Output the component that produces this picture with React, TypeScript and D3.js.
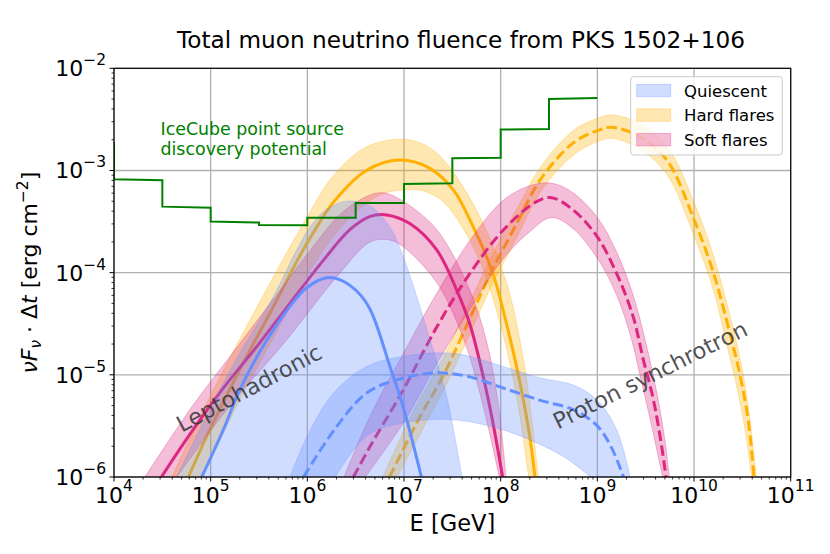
import React from 'react'
import * as d3 from 'd3'

type P = [number, number]

// all points are [log10(E / GeV), log10(fluence / erg cm^-2)]
const xTickExps = [4, 5, 6, 7, 8, 9, 10, 11]
const yTickExps = [-6, -5, -4, -3, -2]
const legendLabels = ['Quiescent', 'Hard flares', 'Soft flares']

// leptohadronic model
const quiescentLeptoLine: P[] = [[4.907, -6.0], [5.13, -5.54], [5.30, -5.15], [5.48, -4.82], [5.65, -4.56], [5.82, -4.33], [5.99, -4.15], [6.2, -4.05], [6.34, -4.07], [6.51, -4.18], [6.65, -4.36], [6.855, -4.92], [6.99, -5.31], [7.18, -6.0]]
const quiescentLeptoUpper: P[] = [[4.65, -6.0], [5.165, -5.02], [5.65, -4.23], [5.89, -3.78], [6.03, -3.55], [6.2, -3.38], [6.41, -3.30], [6.65, -3.35], [6.85, -3.55], [6.99, -3.84], [7.27, -4.66], [7.44, -5.21], [7.6, -6.0]]
const quiescentLeptoLower: P[] = [[4.75, -6.3], [5.5, -6.8], [6.5, -6.9], [7.4, -6.3]]

const hardLeptoLine: P[] = [[4.77, -6.0], [4.96, -5.60], [5.30, -4.95], [5.65, -4.33], [5.92, -3.84], [6.08, -3.58], [6.27, -3.31], [6.61, -3.0], [6.95, -2.898], [7.25, -2.97], [7.51, -3.19], [7.70, -3.52], [7.92, -4.01], [8.06, -4.50], [8.2, -5.08], [8.30, -5.60], [8.355, -6.0]]
const hardLeptoUpper: P[] = [[4.6, -6.0], [5.0, -5.2], [5.5, -4.3], [6.0, -3.45], [6.27, -3.05], [6.61, -2.77], [7.0, -2.695], [7.3, -2.80], [7.65, -3.22], [8.03, -4.01], [8.23, -4.82], [8.39, -6.0]]
const hardLeptoLower: P[] = [[4.92, -6.0], [5.3, -5.25], [5.7, -4.55], [6.0, -4.02], [6.4, -3.5], [6.75, -3.24], [7.0, -3.19], [7.2, -3.2], [7.4, -3.3], [7.6, -3.55], [7.82, -3.97], [8.03, -4.63], [8.165, -5.21], [8.29, -6.0]]

const softLeptoLine: P[] = [[4.49, -6.0], [4.786, -5.58], [5.13, -5.13], [5.48, -4.72], [5.82, -4.30], [6.165, -3.88], [6.44, -3.58], [6.65, -3.45], [6.82, -3.435], [7.06, -3.52], [7.34, -3.78], [7.545, -4.17], [7.68, -4.50], [7.82, -5.02], [7.92, -5.47], [8.02, -6.0]]
const softLeptoUpper: P[] = [[4.32, -6.0], [4.8, -5.32], [5.2, -4.82], [5.6, -4.32], [6.0, -3.82], [6.35, -3.42], [6.65, -3.24], [6.8, -3.22], [6.99, -3.30], [7.34, -3.58], [7.68, -4.17], [7.85, -4.66], [7.97, -5.25], [8.055, -6.0]]
const softLeptoLower: P[] = [[4.65, -6.0], [5.2, -5.3], [5.75, -4.7], [6.34, -4.0], [6.65, -3.70], [6.85, -3.68], [6.99, -3.745], [7.34, -4.10], [7.62, -4.66], [7.82, -5.31], [7.985, -6.0]]

// proton synchrotron model
const quiescentPsLine: P[] = [[5.96, -6.0], [6.30, -5.51], [6.61, -5.18], [6.92, -5.05], [7.34, -4.98], [7.68, -5.02], [8.03, -5.13], [8.41, -5.25], [8.75, -5.34], [9.0, -5.5], [9.15, -5.72], [9.27, -6.0]]
const quiescentPsUpper: P[] = [[5.82, -6.0], [6.0, -5.6], [6.27, -5.18], [6.61, -4.92], [6.99, -4.82], [7.51, -4.79], [8.03, -4.92], [8.41, -5.03], [8.75, -5.10], [9.0, -5.25], [9.2, -5.54], [9.34, -6.0]]
const quiescentPsLower: P[] = [[6.29, -6.0], [6.61, -5.6], [6.99, -5.47], [7.51, -5.44], [8.03, -5.54], [8.45, -5.70], [8.7, -5.83], [8.93, -6.0]]

const hardPsLine: P[] = [[6.85, -6.0], [7.165, -5.41], [7.41, -5.0], [7.68, -4.45], [7.89, -4.02], [8.165, -3.52], [8.41, -3.09], [8.75, -2.73], [9.0, -2.61], [9.146, -2.577], [9.44, -2.67], [9.72, -2.90], [10.0, -3.48], [10.2, -4.0], [10.37, -4.59], [10.475, -5.0], [10.56, -5.44], [10.62, -6.0]]
const hardPsUpper: P[] = [[6.78, -6.0], [7.1, -5.35], [7.4, -4.84], [7.68, -4.29], [7.89, -3.87], [8.165, -3.38], [8.41, -2.97], [8.75, -2.61], [9.0, -2.49], [9.146, -2.457], [9.44, -2.54], [9.72, -2.76], [10.0, -3.31], [10.2, -3.83], [10.38, -4.45], [10.5, -4.95], [10.58, -5.45], [10.645, -6.0]]
const hardPsLower: P[] = [[6.93, -6.0], [7.2, -5.52], [7.41, -5.15], [7.68, -4.60], [7.89, -4.16], [8.165, -3.66], [8.41, -3.21], [8.75, -2.85], [9.0, -2.72], [9.146, -2.685], [9.44, -2.79], [9.72, -3.04], [10.0, -3.64], [10.2, -4.17], [10.35, -4.75], [10.45, -5.15], [10.53, -5.55], [10.595, -6.0]]

const softPsLine: P[] = [[6.476, -6.0], [6.65, -5.70], [6.99, -5.15], [7.34, -4.53], [7.68, -4.01], [8.03, -3.58], [8.37, -3.305], [8.527, -3.266], [8.75, -3.387], [9.0, -3.65], [9.2, -4.01], [9.37, -4.43], [9.475, -4.85], [9.58, -5.245], [9.665, -5.70], [9.71, -6.0]]
const softPsUpper: P[] = [[6.38, -6.0], [6.65, -5.40], [7.0, -4.78], [7.34, -4.20], [7.7, -3.66], [8.03, -3.29], [8.3, -3.15], [8.527, -3.125], [8.75, -3.22], [9.0, -3.46], [9.2, -3.80], [9.37, -4.22], [9.5, -4.68], [9.62, -5.2], [9.7, -5.65], [9.745, -6.0]]
const softPsLower: P[] = [[6.60, -6.0], [7.0, -5.46], [7.34, -4.89], [7.7, -4.33], [8.03, -3.86], [8.3, -3.6], [8.527, -3.46], [8.75, -3.57], [9.0, -3.86], [9.2, -4.22], [9.35, -4.64], [9.45, -5.04], [9.55, -5.45], [9.63, -5.80], [9.675, -6.0]]

// IceCube discovery potential (half-decade bins)
const icecubeSteps: P[] = [[3.5, -2.73], [4.0, -2.73], [4.0, -3.086], [4.5, -3.095], [4.5, -3.354], [5.0, -3.365], [5.0, -3.50], [5.5, -3.51], [5.5, -3.533], [6.0, -3.535], [6.0, -3.462], [6.5, -3.462], [6.5, -3.318], [7.0, -3.318], [7.0, -3.132], [7.5, -3.125], [7.5, -2.88], [8.0, -2.875], [8.0, -2.60], [8.5, -2.595], [8.5, -2.30], [9.0, -2.29]]

const BLUE = '#648FFF'
const GOLD = '#FFB000'
const PINK = '#DC267F'
const GREEN = '#008000'
const FONT = '"DejaVu Sans", sans-serif'

const box = { left: 114, right: 790.7, top: 68.3, bottom: 477 }

const x = d3.scaleLog().domain([1e4, 1e11]).range([box.left, box.right])
const y = d3.scaleLog().domain([1e-6, 1e-2]).range([box.bottom, box.top])

const smooth = d3.line<P>()
  .x(d => x(10 ** d[0]))
  .y(d => y(10 ** d[1]))
  .curve(d3.curveCatmullRom.alpha(0.5))

const straight = d3.line<P>()
  .x(d => x(10 ** d[0]))
  .y(d => y(10 ** d[1]))

function band (upper: P[], lower: P[]) {
  const a = smooth(upper) as string
  const b = smooth([...lower].reverse()) as string
  return a + 'L' + b.slice(1) + 'Z'
}

const groups = [
  { color: GOLD, lepto: [hardLeptoLine, hardLeptoUpper, hardLeptoLower], ps: [hardPsLine, hardPsUpper, hardPsLower] },
  { color: PINK, lepto: [softLeptoLine, softLeptoUpper, softLeptoLower], ps: [softPsLine, softPsUpper, softPsLower] },
  { color: BLUE, lepto: [quiescentLeptoLine, quiescentLeptoUpper, quiescentLeptoLower], ps: [quiescentPsLine, quiescentPsUpper, quiescentPsLower] },
]
const legendColors = [BLUE, GOLD, PINK]

const sup = (e: number) => (e < 0 ? '\u2212' + Math.abs(e) : String(e))

export default function App () {
  const minorX: number[] = []
  for (let d = 4; d < 11; d++) for (let m = 2; m < 10; m++) minorX.push(m * 10 ** d)
  const minorY: number[] = []
  for (let d = -6; d < -2; d++) for (let m = 2; m < 10; m++) minorY.push(m * 10 ** d)

  return (
    <svg width={830} height={554} style={{ position: 'absolute', left: 0, top: 0, background: '#fff' }} fontFamily={FONT}>
      <defs>
        <clipPath id='plot-clip'>
          <rect x={box.left} y={box.top} width={box.right - box.left} height={box.bottom - box.top} />
        </clipPath>
      </defs>

      {/* grid */}
      <g stroke='#b0b0b0' strokeWidth={1.3}>
        {xTickExps.map(e => <line key={'gx' + e} x1={x(10 ** e)} x2={x(10 ** e)} y1={box.top} y2={box.bottom} />)}
        {yTickExps.map(e => <line key={'gy' + e} x1={box.left} x2={box.right} y1={y(10 ** e)} y2={y(10 ** e)} />)}
      </g>

      <g clipPath='url(#plot-clip)'>
        {groups.map((g, i) => (
          <g key={'grp' + i}>
            <path d={band(g.lepto[1], g.lepto[2])} fill={g.color} fillOpacity={0.3} stroke={g.color} strokeOpacity={0.3} strokeWidth={1} />
            <path d={band(g.ps[1], g.ps[2])} fill={g.color} fillOpacity={0.3} stroke={g.color} strokeOpacity={0.3} strokeWidth={1} />
            <path d={smooth(g.lepto[0]) as string} fill='none' stroke={g.color} strokeWidth={3} />
            <path d={smooth(g.ps[0]) as string} fill='none' stroke={g.color} strokeWidth={3} strokeDasharray='10.5,4.5' />
          </g>
        ))}
        <path d={straight(icecubeSteps) as string} fill='none' stroke={GREEN} strokeWidth={2} />
      </g>

      {/* annotations */}
      <g fill={GREEN} fontSize={17.4}>
        <text x={160.5} y={135}>IceCube point source</text>
        <text x={160.5} y={155}>discovery potential</text>
      </g>
      <text x={249} y={388} fontSize={22.5} fill='#333' fillOpacity={0.85} textAnchor='middle' dominantBaseline='central' transform='rotate(-28 249 388)'>Leptohadronic</text>
      <text x={650} y={375} fontSize={22.5} fill='#333' fillOpacity={0.85} textAnchor='middle' dominantBaseline='central' transform='rotate(-26.5 650 375)'>Proton synchrotron</text>

      {/* frame and ticks */}
      <rect x={box.left} y={box.top} width={box.right - box.left} height={box.bottom - box.top} fill='none' stroke='#000' strokeWidth={1.2} />
      <g stroke='#000' strokeWidth={1}>
        {xTickExps.map(e => <line key={'tx' + e} x1={x(10 ** e)} x2={x(10 ** e)} y1={box.bottom} y2={box.bottom + 4.5} />)}
        {minorX.map((v, i) => <line key={'mx' + i} x1={x(v)} x2={x(v)} y1={box.bottom} y2={box.bottom + 2.5} strokeWidth={0.8} />)}
        {yTickExps.map(e => <line key={'ty' + e} x1={box.left - 4.5} x2={box.left} y1={y(10 ** e)} y2={y(10 ** e)} />)}
        {minorY.map((v, i) => <line key={'my' + i} x1={box.left - 2.5} x2={box.left} y1={y(v)} y2={y(v)} strokeWidth={0.8} />)}
      </g>
      <g fontSize={22} fill='#000'>
        {xTickExps.map(e => (
          <text key={'lx' + e} x={x(10 ** e)} y={502.5} textAnchor='middle'>
            10<tspan fontSize={15.5} dy={-11.5}>{sup(e)}</tspan>
          </text>
        ))}
        {yTickExps.map(e => (
          <text key={'ly' + e} x={106} y={y(10 ** e) + 8} textAnchor='end'>
            10<tspan fontSize={15.5} dy={-11}>{sup(e)}</tspan>
          </text>
        ))}
      </g>

      {/* axis labels and title */}
      <text x={452.4} y={531} fontSize={22.5} textAnchor='middle'>E [GeV]</text>
      <text transform={`translate(36.5,${(box.top + box.bottom) / 2}) rotate(-90)`} fontSize={22} textAnchor='middle'>
        <tspan fontStyle='italic'>νF</tspan>
        <tspan fontStyle='italic' fontSize={15.4} dy={4}>ν</tspan>
        <tspan dy={-4}>{' \u00b7 Δ'}</tspan>
        <tspan fontStyle='italic'>t</tspan>
        <tspan>{' [erg cm'}</tspan>
        <tspan fontSize={15.4} dy={-9}>{'\u22122'}</tspan>
        <tspan dy={9}>]</tspan>
      </text>
      <text x={461} y={48} fontSize={23.2} textAnchor='middle'>Total muon neutrino fluence from PKS 1502+106</text>

      {/* legend */}
      <g>
        <rect x={630.7} y={76.7} width={151.6} height={78.3} rx={3} fill='#fff' fillOpacity={0.8} stroke='#cccccc' strokeWidth={1} />
        {legendLabels.map((lab, i) => {
          const cy = 90.5 + i * 24.6
          return (
            <g key={lab}>
              <rect x={636.7} y={cy - 6.2} width={34} height={12.4} fill={legendColors[i]} fillOpacity={0.3} stroke={legendColors[i]} strokeOpacity={0.3} />
              <text x={684} y={cy + 6} fontSize={16.5}>{lab}</text>
            </g>
          )
        })}
      </g>
    </svg>
  )
}
